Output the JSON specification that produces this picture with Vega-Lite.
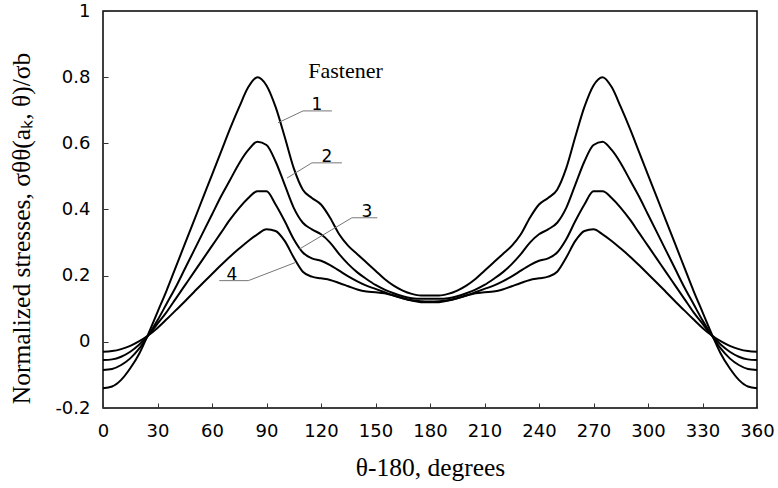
{
  "$schema": "https://vega.github.io/schema/vega-lite/v6.json",
  "width": 654,
  "height": 397,
  "autosize": "none",
  "padding": {"left": 103, "top": 11, "right": 21, "bottom": 80},
  "background": "white",
  "config": {
    "view": {"stroke": "black", "strokeWidth": 1.5},
    "axis": {
      "labelFont": "DejaVu Sans",
      "labelFontSize": 18,
      "labelColor": "black",
      "titleFont": "Liberation Serif",
      "titleFontSize": 25.5,
      "titleFontWeight": "normal",
      "titleColor": "black",
      "domain": false,
      "grid": false,
      "tickColor": "#333",
      "tickSize": -5,
      "tickWidth": 1
    }
  },
  "layer": [
    {
      "data": {"values": [
        {"t": 0, "c1": -0.14, "c2": -0.085, "c3": -0.055, "c4": -0.03},
        {"t": 5, "c1": -0.135, "c2": -0.082, "c3": -0.053, "c4": -0.028},
        {"t": 10, "c1": -0.115, "c2": -0.07, "c3": -0.045, "c4": -0.022},
        {"t": 15, "c1": -0.08, "c2": -0.05, "c3": -0.03, "c4": -0.012},
        {"t": 20, "c1": -0.035, "c2": -0.02, "c3": -0.008, "c4": 0.002},
        {"t": 25, "c1": 0.025, "c2": 0.02, "c3": 0.02, "c4": 0.02},
        {"t": 30, "c1": 0.09, "c2": 0.065, "c3": 0.055, "c4": 0.042},
        {"t": 35, "c1": 0.155, "c2": 0.115, "c3": 0.09, "c4": 0.068},
        {"t": 40, "c1": 0.225, "c2": 0.165, "c3": 0.13, "c4": 0.095},
        {"t": 45, "c1": 0.295, "c2": 0.22, "c3": 0.17, "c4": 0.122},
        {"t": 50, "c1": 0.365, "c2": 0.275, "c3": 0.21, "c4": 0.15},
        {"t": 55, "c1": 0.435, "c2": 0.33, "c3": 0.25, "c4": 0.178},
        {"t": 60, "c1": 0.505, "c2": 0.385, "c3": 0.29, "c4": 0.205},
        {"t": 65, "c1": 0.575, "c2": 0.44, "c3": 0.33, "c4": 0.232},
        {"t": 70, "c1": 0.645, "c2": 0.49, "c3": 0.37, "c4": 0.258},
        {"t": 75, "c1": 0.71, "c2": 0.54, "c3": 0.405, "c4": 0.282},
        {"t": 80, "c1": 0.77, "c2": 0.58, "c3": 0.435, "c4": 0.305},
        {"t": 85, "c1": 0.8, "c2": 0.605, "c3": 0.455, "c4": 0.325},
        {"t": 90, "c1": 0.775, "c2": 0.595, "c3": 0.455, "c4": 0.34},
        {"t": 95, "c1": 0.71, "c2": 0.545, "c3": 0.415, "c4": 0.335},
        {"t": 100, "c1": 0.62, "c2": 0.475, "c3": 0.365, "c4": 0.305},
        {"t": 105, "c1": 0.525, "c2": 0.405, "c3": 0.31, "c4": 0.255},
        {"t": 110, "c1": 0.46, "c2": 0.36, "c3": 0.27, "c4": 0.212},
        {"t": 115, "c1": 0.435, "c2": 0.34, "c3": 0.252, "c4": 0.197},
        {"t": 120, "c1": 0.415, "c2": 0.325, "c3": 0.245, "c4": 0.192},
        {"t": 125, "c1": 0.375, "c2": 0.3, "c3": 0.232, "c4": 0.187},
        {"t": 130, "c1": 0.325, "c2": 0.265, "c3": 0.215, "c4": 0.178},
        {"t": 135, "c1": 0.29, "c2": 0.235, "c3": 0.198, "c4": 0.168},
        {"t": 140, "c1": 0.265, "c2": 0.21, "c3": 0.183, "c4": 0.158},
        {"t": 145, "c1": 0.24, "c2": 0.19, "c3": 0.17, "c4": 0.152},
        {"t": 150, "c1": 0.215, "c2": 0.172, "c3": 0.16, "c4": 0.15},
        {"t": 155, "c1": 0.19, "c2": 0.158, "c3": 0.15, "c4": 0.147},
        {"t": 160, "c1": 0.17, "c2": 0.147, "c3": 0.14, "c4": 0.14},
        {"t": 165, "c1": 0.155, "c2": 0.138, "c3": 0.132, "c4": 0.132},
        {"t": 170, "c1": 0.145, "c2": 0.132, "c3": 0.126, "c4": 0.125},
        {"t": 175, "c1": 0.14, "c2": 0.13, "c3": 0.123, "c4": 0.12},
        {"t": 180, "c1": 0.14, "c2": 0.13, "c3": 0.122, "c4": 0.12},
        {"t": 185, "c1": 0.14, "c2": 0.13, "c3": 0.123, "c4": 0.12},
        {"t": 190, "c1": 0.145, "c2": 0.132, "c3": 0.126, "c4": 0.125},
        {"t": 195, "c1": 0.155, "c2": 0.138, "c3": 0.132, "c4": 0.132},
        {"t": 200, "c1": 0.17, "c2": 0.147, "c3": 0.14, "c4": 0.14},
        {"t": 205, "c1": 0.19, "c2": 0.158, "c3": 0.15, "c4": 0.147},
        {"t": 210, "c1": 0.215, "c2": 0.172, "c3": 0.16, "c4": 0.15},
        {"t": 215, "c1": 0.24, "c2": 0.19, "c3": 0.17, "c4": 0.152},
        {"t": 220, "c1": 0.265, "c2": 0.21, "c3": 0.183, "c4": 0.158},
        {"t": 225, "c1": 0.29, "c2": 0.235, "c3": 0.198, "c4": 0.168},
        {"t": 230, "c1": 0.325, "c2": 0.265, "c3": 0.215, "c4": 0.178},
        {"t": 235, "c1": 0.375, "c2": 0.3, "c3": 0.232, "c4": 0.187},
        {"t": 240, "c1": 0.415, "c2": 0.325, "c3": 0.245, "c4": 0.192},
        {"t": 245, "c1": 0.435, "c2": 0.34, "c3": 0.252, "c4": 0.197},
        {"t": 250, "c1": 0.46, "c2": 0.36, "c3": 0.27, "c4": 0.212},
        {"t": 255, "c1": 0.525, "c2": 0.405, "c3": 0.31, "c4": 0.255},
        {"t": 260, "c1": 0.62, "c2": 0.475, "c3": 0.365, "c4": 0.305},
        {"t": 265, "c1": 0.71, "c2": 0.545, "c3": 0.415, "c4": 0.335},
        {"t": 270, "c1": 0.775, "c2": 0.595, "c3": 0.455, "c4": 0.34},
        {"t": 275, "c1": 0.8, "c2": 0.605, "c3": 0.455, "c4": 0.325},
        {"t": 280, "c1": 0.77, "c2": 0.58, "c3": 0.435, "c4": 0.305},
        {"t": 285, "c1": 0.71, "c2": 0.54, "c3": 0.405, "c4": 0.282},
        {"t": 290, "c1": 0.645, "c2": 0.49, "c3": 0.37, "c4": 0.258},
        {"t": 295, "c1": 0.575, "c2": 0.44, "c3": 0.33, "c4": 0.232},
        {"t": 300, "c1": 0.505, "c2": 0.385, "c3": 0.29, "c4": 0.205},
        {"t": 305, "c1": 0.435, "c2": 0.33, "c3": 0.25, "c4": 0.178},
        {"t": 310, "c1": 0.365, "c2": 0.275, "c3": 0.21, "c4": 0.15},
        {"t": 315, "c1": 0.295, "c2": 0.22, "c3": 0.17, "c4": 0.122},
        {"t": 320, "c1": 0.225, "c2": 0.165, "c3": 0.13, "c4": 0.095},
        {"t": 325, "c1": 0.155, "c2": 0.115, "c3": 0.09, "c4": 0.068},
        {"t": 330, "c1": 0.09, "c2": 0.065, "c3": 0.055, "c4": 0.042},
        {"t": 335, "c1": 0.025, "c2": 0.02, "c3": 0.02, "c4": 0.02},
        {"t": 340, "c1": -0.035, "c2": -0.02, "c3": -0.008, "c4": 0.002},
        {"t": 345, "c1": -0.08, "c2": -0.05, "c3": -0.03, "c4": -0.012},
        {"t": 350, "c1": -0.115, "c2": -0.07, "c3": -0.045, "c4": -0.022},
        {"t": 355, "c1": -0.135, "c2": -0.082, "c3": -0.053, "c4": -0.028},
        {"t": 360, "c1": -0.14, "c2": -0.085, "c3": -0.055, "c4": -0.03}
      ]},
      "transform": [{"fold": ["c1", "c2", "c3", "c4"], "as": ["curve", "v"]}],
      "mark": {"type": "line", "interpolate": "monotone", "color": "black", "strokeWidth": 2},
      "encoding": {
        "x": {
          "field": "t", "type": "quantitative",
          "scale": {"domain": [0, 360], "nice": false},
          "axis": {"values": [0, 30, 60, 90, 120, 150, 180, 210, 240, 270, 300, 330, 360], "labelPadding": 19, "title": "θ-180, degrees", "titlePadding": 15, "labelFlush": false}
        },
        "y": {
          "field": "v", "type": "quantitative",
          "scale": {"domain": [-0.2, 1], "nice": false, "zero": false},
          "axis": {"values": [-0.2, 0, 0.2, 0.4, 0.6, 0.8, 1], "labelPadding": 18, "labelExpr": "replace(format(datum.value, '~g'), '−', '-')", "title": "Normalized stresses,  σθθ(aₖ, θ)/σb", "titlePadding": 20, "titleY": 217, "labelFlush": false}
        },
        "detail": {"field": "curve", "type": "nominal"}
      }
    },
    {
      "mark": {"type": "rule", "color": "black", "strokeWidth": 1.2},
      "encoding": {"y": {"datum": 0, "type": "quantitative"}}
    },
    {
      "data": {"values": [
        {"x": 110.1, "y": 0.698, "x2": 126, "y2": 0.698},
        {"x": 110.1, "y": 0.698, "x2": 96.3, "y2": 0.662},
        {"x": 115, "y": 0.541, "x2": 131.5, "y2": 0.541},
        {"x": 115, "y": 0.541, "x2": 101.3, "y2": 0.495},
        {"x": 137, "y": 0.375, "x2": 151, "y2": 0.375},
        {"x": 137, "y": 0.375, "x2": 108, "y2": 0.28},
        {"x": 64, "y": 0.185, "x2": 80, "y2": 0.185},
        {"x": 80, "y": 0.185, "x2": 106, "y2": 0.24}
      ]},
      "mark": {"type": "rule", "color": "#777", "strokeWidth": 1},
      "encoding": {
        "x": {"field": "x", "type": "quantitative"},
        "y": {"field": "y", "type": "quantitative"},
        "x2": {"field": "x2"},
        "y2": {"field": "y2"}
      }
    },
    {
      "data": {"values": [
        {"x": 117.8, "y": 0.698, "label": "1"},
        {"x": 123.3, "y": 0.541, "label": "2"},
        {"x": 145.3, "y": 0.375, "label": "3"},
        {"x": 71, "y": 0.185, "label": "4"}
      ]},
      "mark": {"type": "text", "font": "DejaVu Sans", "fontSize": 17, "color": "black", "baseline": "alphabetic", "dy": -1},
      "encoding": {
        "x": {"field": "x", "type": "quantitative"},
        "y": {"field": "y", "type": "quantitative"},
        "text": {"field": "label"}
      }
    },
    {
      "data": {"values": [{"x": 133.5, "y": 0.82, "label": "Fastener"}]},
      "mark": {"type": "text", "font": "Liberation Serif", "fontSize": 22, "color": "black", "baseline": "middle"},
      "encoding": {
        "x": {"field": "x", "type": "quantitative"},
        "y": {"field": "y", "type": "quantitative"},
        "text": {"field": "label"}
      }
    }
  ]
}
